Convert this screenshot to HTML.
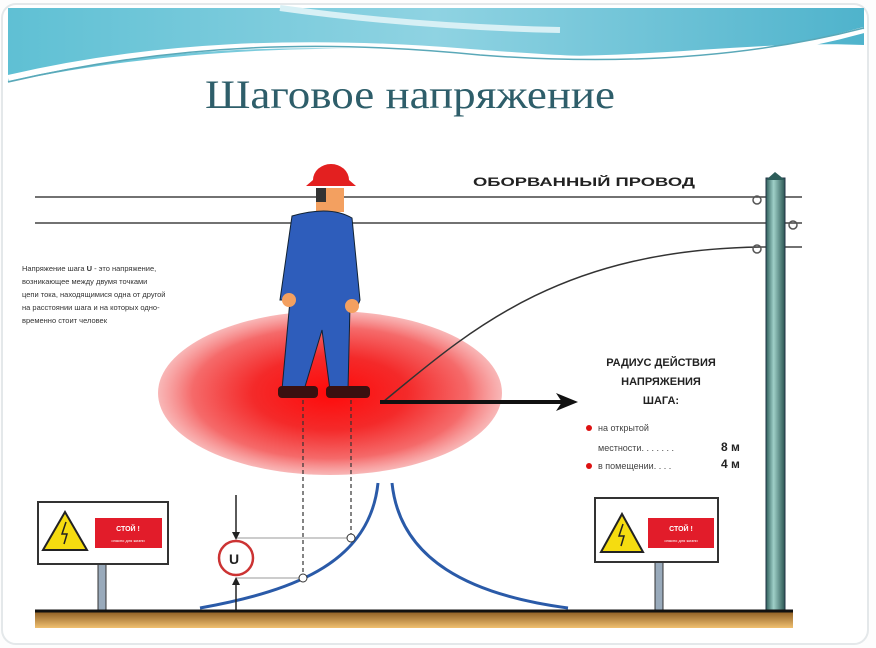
<!DOCTYPE html>
<html><head><meta charset="utf-8"><style>
body{margin:0;width:876px;height:648px;overflow:hidden;background:#fff;}
svg{display:block}
</style></head><body>
<svg width="876" height="648" viewBox="0 0 876 648" xmlns="http://www.w3.org/2000/svg">
<defs>
<linearGradient id="hd" x1="0" y1="0" x2="1" y2="0">
<stop offset="0" stop-color="#5fc0d4"/><stop offset="0.5" stop-color="#8fd3e2"/><stop offset="1" stop-color="#4fb3cc"/></linearGradient>
<radialGradient id="rd" cx="0.5" cy="0.5" r="0.5">
<stop offset="0" stop-color="#ff0a0a"/><stop offset="0.45" stop-color="#f42a2a"/><stop offset="0.8" stop-color="#f56a6a"/><stop offset="1" stop-color="#f7a5a5" stop-opacity="0.8"/></radialGradient>
<linearGradient id="pl" x1="0" x2="1"><stop offset="0" stop-color="#2d5d5a"/><stop offset="0.4" stop-color="#9fd0c8"/><stop offset="1" stop-color="#2a5552"/></linearGradient>
<linearGradient id="gr" x1="0" y1="0" x2="0" y2="1"><stop offset="0" stop-color="#8a5a20"/><stop offset="1" stop-color="#f0c070"/></linearGradient>
</defs>
<rect x="0" y="0" width="876" height="648" fill="#fdfdfd"/>
<rect x="2" y="4" width="866" height="640" rx="14" fill="#fff" stroke="#e4e8ea" stroke-width="2"/>
<path d="M8 8 H864 V45 C760 40 640 60 520 55 C380 45 200 42 8 82 Z" fill="url(#hd)"/>
<path d="M8 78 C150 45 300 38 470 52 C600 62 720 70 864 30" fill="none" stroke="#ffffff" stroke-width="6"/>
<path d="M8 82 C180 42 330 40 480 55 C610 65 740 60 864 28" fill="none" stroke="#5aa8b8" stroke-width="1.5"/>
<path d="M280 8 C380 22 470 28 560 30" fill="none" stroke="#d8f0f5" stroke-width="6"/>
<text x="205" y="108" font-family="Liberation Serif,serif" font-size="40" fill="#2e5e6a" textLength="410" lengthAdjust="spacingAndGlyphs">Шаговое напряжение</text>
<text x="473" y="186" font-family="Liberation Sans,sans-serif" font-weight="bold" font-size="12" fill="#222" textLength="222" lengthAdjust="spacingAndGlyphs">ОБОРВАННЫЙ ПРОВОД</text>
<line x1="35" y1="197" x2="802" y2="197" stroke="#444" stroke-width="1.5"/>
<line x1="35" y1="223" x2="802" y2="223" stroke="#444" stroke-width="1.5"/>
<line x1="760" y1="247" x2="802" y2="247" stroke="#444" stroke-width="1.5"/>
<ellipse cx="330" cy="393" rx="172" ry="82" fill="url(#rd)"/>
<path d="M383 402 C470 330 560 250 760 247" fill="none" stroke="#333" stroke-width="1.5"/>
<line x1="380" y1="402" x2="565" y2="402" stroke="#111" stroke-width="4"/>
<path d="M578 402 L556 393 L562 402 L556 411 Z" fill="#111"/>
<rect x="766" y="178" width="19" height="432" fill="url(#pl)" stroke="#234" stroke-width="1"/>
<path d="M766 180 L775 172 L785 180 Z" fill="#2d5d5a"/>
<g fill="none" stroke="#555" stroke-width="1.5"><circle cx="757" cy="200" r="4"/><circle cx="793" cy="225" r="4"/><circle cx="757" cy="249" r="4"/></g>
<!-- man -->
<path d="M313 180 A18 16 0 0 1 349 180 L356 186 L306 186 Z" fill="#e32020"/>
<path d="M316 188 h28 v24 h-28 z" fill="#f3a060"/>
<path d="M316 188 h10 v14 h-10z" fill="#333"/>
<path d="M292 216 Q330 205 352 218 L360 300 L356 310 L350 305 L348 390 L330 390 L322 330 L304 390 L282 390 L290 300 L280 300 Z" fill="#2e5dbb" stroke="#123" stroke-width="1"/>
<circle cx="289" cy="300" r="7" fill="#f3a060"/><circle cx="352" cy="306" r="7" fill="#f3a060"/>
<rect x="278" y="386" width="40" height="12" rx="4" fill="#3a1010"/>
<rect x="326" y="386" width="44" height="12" rx="4" fill="#3a1010"/>
<g font-family="Liberation Sans,sans-serif" font-size="7.5" fill="#333">
<text x="22" y="271">Напряжение шага <tspan font-weight="bold">U</tspan> - это напряжение,</text>
<text x="22" y="284">возникающее между двумя точками</text>
<text x="22" y="297">цепи тока, находящимися одна от другой</text>
<text x="22" y="310">на расстоянии шага и на которых одно-</text>
<text x="22" y="323">временно стоит человек</text>
</g>
<g font-family="Liberation Sans,sans-serif" font-weight="bold" font-size="11" fill="#222" text-anchor="middle">
<text x="661" y="366">РАДИУС ДЕЙСТВИЯ</text><text x="661" y="385">НАПРЯЖЕНИЯ</text><text x="661" y="404">ШАГА:</text></g>
<g font-family="Liberation Sans,sans-serif" font-size="9" fill="#444">
<circle cx="589" cy="428" r="3" fill="#d11"/><text x="598" y="431">на открытой</text>
<text x="598" y="451">местности. . . . . . .</text><text x="721" y="451" font-weight="bold" font-size="12" fill="#222">8 м</text>
<circle cx="589" cy="466" r="3" fill="#d11"/><text x="598" y="469">в помещении. . . .</text><text x="721" y="468" font-weight="bold" font-size="12" fill="#222">4 м</text></g>
<!-- curves -->
<path d="M200 608 C300 590 370 560 378 483" fill="none" stroke="#2a5aa8" stroke-width="3"/>
<path d="M392 483 C400 560 470 595 568 608" fill="none" stroke="#2a5aa8" stroke-width="3"/>
<g stroke="#333" stroke-width="1.2" stroke-dasharray="4 3"><line x1="303" y1="400" x2="303" y2="578"/><line x1="351" y1="400" x2="351" y2="538"/></g>
<g stroke="#999" stroke-width="1"><line x1="236" y1="538" x2="351" y2="538"/><line x1="236" y1="578" x2="303" y2="578"/></g>
<circle cx="351" cy="538" r="4" fill="#fff" stroke="#333"/><circle cx="303" cy="578" r="4" fill="#fff" stroke="#333"/>
<g stroke="#222" stroke-width="1.5"><line x1="236" y1="495" x2="236" y2="535"/><line x1="236" y1="612" x2="236" y2="582"/></g>
<path d="M236 540 l-4 -8 h8z M236 577 l-4 8 h8z" fill="#222"/>
<circle cx="236" cy="558" r="17" fill="#fff" stroke="#c33" stroke-width="2.5"/>
<text x="229" y="564" font-family="Liberation Sans,sans-serif" font-weight="bold" font-size="14" fill="#222">U</text>
<!-- signs -->
<g>
<rect x="98" y="563" width="8" height="48" fill="#9ab" stroke="#333"/>
<rect x="38" y="502" width="130" height="62" fill="#fff" stroke="#333" stroke-width="2"/>
<path d="M65 512 L87 550 L43 550 Z" fill="#f5dc10" stroke="#222" stroke-width="2"/>
<path d="M66 522 l-4 12 h5 l-3 10" stroke="#222" fill="none" stroke-width="1.5"/>
<rect x="95" y="518" width="67" height="30" fill="#e21c2a"/>
<text x="128" y="531" font-family="Liberation Sans,sans-serif" font-weight="bold" font-size="7" fill="#fff" text-anchor="middle">СТОЙ !</text>
<text x="128" y="542" font-family="Liberation Sans,sans-serif" font-size="4" fill="#fff" text-anchor="middle">опасно для жизни</text>
</g>
<g>
<rect x="655" y="562" width="8" height="49" fill="#9ab" stroke="#333"/>
<rect x="595" y="498" width="123" height="64" fill="#fff" stroke="#333" stroke-width="2"/>
<path d="M622 514 L643 552 L601 552 Z" fill="#f5dc10" stroke="#222" stroke-width="2"/>
<path d="M623 524 l-4 12 h5 l-3 10" stroke="#222" fill="none" stroke-width="1.5"/>
<rect x="648" y="518" width="66" height="30" fill="#e21c2a"/>
<text x="681" y="531" font-family="Liberation Sans,sans-serif" font-weight="bold" font-size="7" fill="#fff" text-anchor="middle">СТОЙ !</text>
<text x="681" y="542" font-family="Liberation Sans,sans-serif" font-size="4" fill="#fff" text-anchor="middle">опасно для жизни</text>
</g>
<rect x="35" y="611" width="758" height="17" fill="url(#gr)"/>
<line x1="35" y1="611" x2="793" y2="611" stroke="#111" stroke-width="3"/>
</svg>
</body></html>
